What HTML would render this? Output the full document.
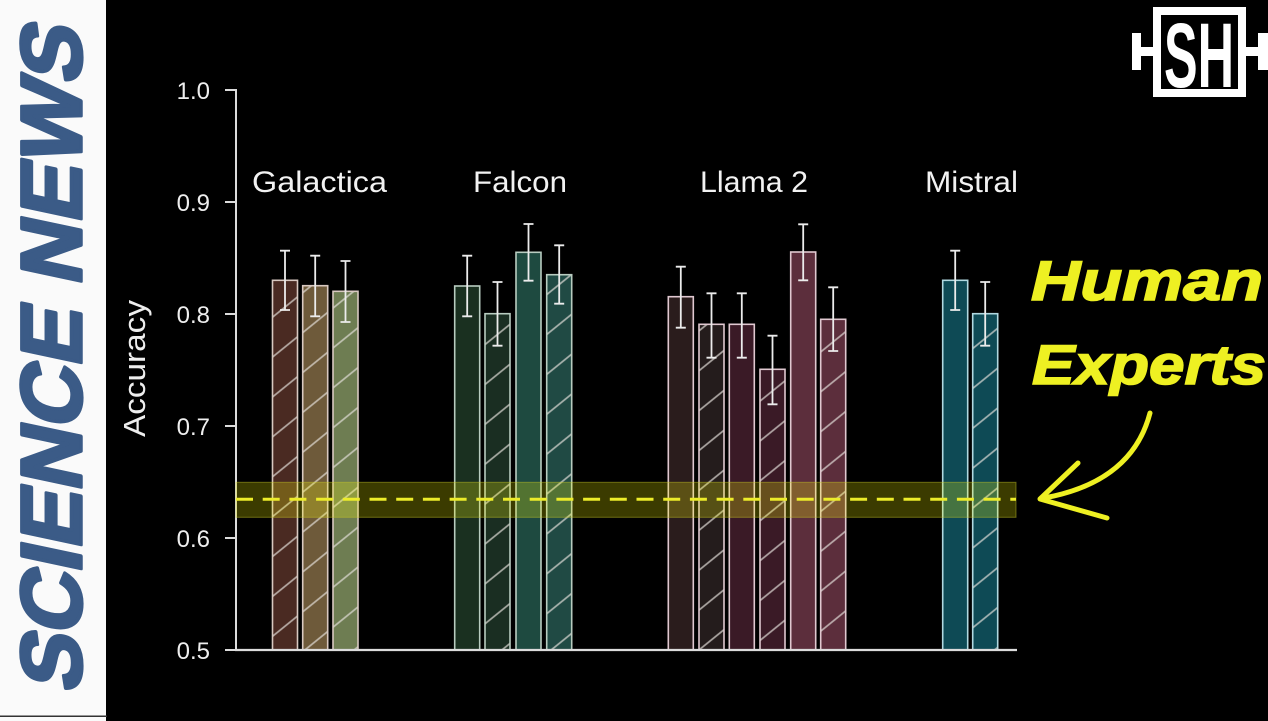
<!DOCTYPE html>
<html>
<head>
<meta charset="utf-8">
<style>
  html,body{margin:0;padding:0;background:#000;}
  svg{display:block;}
</style>
</head>
<body>
<svg width="1268" height="721" viewBox="0 0 1268 721" xmlns="http://www.w3.org/2000/svg">
  <defs>
    <pattern id="h" patternUnits="userSpaceOnUse" width="10" height="31" patternTransform="rotate(-39)">
      <line x1="-1" y1="15" x2="11" y2="15" stroke="rgba(230,225,220,0.7)" stroke-width="1.7"/>
    </pattern>
  </defs>
  <rect x="0" y="0" width="1268" height="721" fill="#000"/>

  <!-- left banner -->
  <rect x="0" y="0" width="106" height="721" fill="#fafafa"/>
  <rect x="0" y="715.5" width="107" height="1.5" fill="#333"/>
  <text transform="translate(81,694) rotate(-90) skewX(-12)" x="0" y="0" font-family="Liberation Sans, sans-serif" font-weight="bold" font-size="86" fill="#3b5b87" stroke="#3b5b87" stroke-width="3.5" stroke-linejoin="round" textLength="666" lengthAdjust="spacingAndGlyphs">SCIENCE NEWS</text>

  <!-- logo -->
  <rect x="1153" y="7" width="93" height="90" fill="#fff"/>
  <rect x="1161" y="15" width="77" height="74" fill="#000"/>
  <text x="1164" y="87" font-family="Liberation Sans, sans-serif" font-weight="bold" font-size="92" fill="#fff" textLength="70" lengthAdjust="spacingAndGlyphs">SH</text>
  <rect x="1132" y="47" width="21" height="9" fill="#fff"/>
  <rect x="1132" y="33" width="9" height="37" fill="#fff"/>
  <rect x="1246" y="47" width="16" height="9" fill="#fff"/>
  <rect x="1258" y="33" width="10" height="37" fill="#fff"/>

  <!-- y axis -->
  <g stroke="#dcdcdc" stroke-width="2" fill="none">
    <line x1="236" y1="89" x2="236" y2="650"/>
    <line x1="225" y1="90" x2="236" y2="90"/>
    <line x1="225" y1="202" x2="236" y2="202"/>
    <line x1="225" y1="314" x2="236" y2="314"/>
    <line x1="225" y1="426" x2="236" y2="426"/>
    <line x1="225" y1="538" x2="236" y2="538"/>
    <line x1="225" y1="650" x2="236" y2="650"/>
  </g>
  <g font-family="Liberation Sans, sans-serif" font-size="24" fill="#eeeeee" text-anchor="end">
    <text x="210" y="99">1.0</text>
    <text x="210" y="211">0.9</text>
    <text x="210" y="323">0.8</text>
    <text x="210" y="435">0.7</text>
    <text x="210" y="547">0.6</text>
    <text x="210" y="659">0.5</text>
  </g>
  <text transform="translate(145,437) rotate(-90)" x="0" y="0" font-family="Liberation Sans, sans-serif" font-size="31" fill="#eeeeee" textLength="137" lengthAdjust="spacingAndGlyphs">Accuracy</text>

  <!-- group labels -->
  <g font-family="Liberation Sans, sans-serif" font-size="30" fill="#f2f2f2">
    <text x="252" y="192" textLength="135" lengthAdjust="spacingAndGlyphs">Galactica</text>
    <text x="473" y="192" textLength="94" lengthAdjust="spacingAndGlyphs">Falcon</text>
    <text x="700" y="192" textLength="108" lengthAdjust="spacingAndGlyphs">Llama 2</text>
    <text x="925" y="192" textLength="93" lengthAdjust="spacingAndGlyphs">Mistral</text>
  </g>

  <!-- bars: Galactica -->
  <g stroke="#d8c8c0" stroke-width="1.6">
    <rect x="272.5" y="280.3" width="25" height="369.7" fill="#4a2a22"/>
    <rect x="302.7" y="285.7" width="25" height="364.3" fill="#6e5a3a"/>
    <rect x="333" y="291.3" width="25" height="358.7" fill="#6e7d52"/>
  </g>
  <g fill="url(#h)">
    <rect x="273" y="281" width="24" height="369"/>
    <rect x="303.2" y="286.5" width="24" height="363.5"/>
    <rect x="333.5" y="292" width="24" height="358"/>
  </g>

  <!-- bars: Falcon -->
  <g stroke="#b8ccc0" stroke-width="1.6">
    <rect x="454.7" y="286" width="25" height="364" fill="#1a3020"/>
    <rect x="485" y="313.7" width="25" height="336.3" fill="#1a2e22"/>
    <rect x="516" y="252.3" width="25" height="397.7" fill="#1e4a40"/>
    <rect x="546.7" y="274.7" width="25" height="375.3" fill="#204a44"/>
  </g>
  <g fill="url(#h)">
    <rect x="485.5" y="314.5" width="24" height="335.5"/>
    <rect x="547.2" y="275.5" width="24" height="374.5"/>
  </g>

  <!-- bars: Llama 2 -->
  <g stroke="#e0c8d0" stroke-width="1.6">
    <rect x="668.3" y="296.7" width="25" height="353.3" fill="#2a1c1c"/>
    <rect x="699" y="324.3" width="25" height="325.7" fill="#241c1c"/>
    <rect x="729.3" y="324.3" width="25" height="325.7" fill="#3a1a26"/>
    <rect x="760" y="369.3" width="25" height="280.7" fill="#3a1a26"/>
    <rect x="790.7" y="252" width="25" height="398" fill="#5c2e3c"/>
    <rect x="820.7" y="319.3" width="25" height="330.7" fill="#5c2e3c"/>
  </g>
  <g fill="url(#h)">
    <rect x="699.5" y="325" width="24" height="325"/>
    <rect x="760.5" y="370" width="24" height="280"/>
    <rect x="821.2" y="320" width="24" height="330"/>
  </g>

  <!-- bars: Mistral -->
  <g stroke="#b0d8e0" stroke-width="1.6">
    <rect x="942.7" y="280.3" width="25" height="369.7" fill="#0e4a55"/>
    <rect x="972.7" y="313.7" width="25" height="336.3" fill="#0e4a55"/>
  </g>
  <g fill="url(#h)">
    <rect x="973.2" y="314.5" width="24" height="335.5"/>
  </g>

  <!-- error bars -->
  <path fill="none" stroke="#ececec" stroke-width="1.8" d="
    M285,250.7 V310 M280,250.7 H290 M280,310 H290
    M315.2,255.7 V316.3 M310.2,255.7 H320.2 M310.2,316.3 H320.2
    M345.5,261 V322 M340.5,261 H350.5 M340.5,322 H350.5
    M467.2,255.7 V316.3 M462.2,255.7 H472.2 M462.2,316.3 H472.2
    M497.5,282 V345.7 M492.5,282 H502.5 M492.5,345.7 H502.5
    M528.5,224 V280.7 M523.5,224 H533.5 M523.5,280.7 H533.5
    M559.2,245.3 V303.7 M554.2,245.3 H564.2 M554.2,303.7 H564.2
    M680.8,266.7 V327.7 M675.8,266.7 H685.8 M675.8,327.7 H685.8
    M711.5,293.3 V357.7 M706.5,293.3 H716.5 M706.5,357.7 H716.5
    M741.8,293.3 V357.7 M736.8,293.3 H746.8 M736.8,357.7 H746.8
    M772.5,335.7 V404.3 M767.5,335.7 H777.5 M767.5,404.3 H777.5
    M803.2,224.3 V280.3 M798.2,224.3 H808.2 M798.2,280.3 H808.2
    M833.2,287.3 V351 M828.2,287.3 H838.2 M828.2,351 H838.2
    M955.2,250.7 V310 M950.2,250.7 H960.2 M950.2,310 H960.2
    M985.2,282 V345.7 M980.2,282 H990.2 M980.2,345.7 H990.2"/>

  <!-- x axis -->
  <line x1="235" y1="650" x2="1017" y2="650" stroke="#dcdcdc" stroke-width="2.2"/>

  <!-- human expert band -->
  <rect x="236" y="482.3" width="780" height="35" fill="rgba(255,255,0,0.23)" stroke="rgba(200,200,40,0.45)" stroke-width="1"/>
  <line x1="236" y1="499.3" x2="1016" y2="499.3" stroke="#ecec2a" stroke-width="3" stroke-dasharray="17 9.7"/>

  <!-- Human Experts annotation -->
  <g font-family="Liberation Sans, sans-serif" font-weight="bold" font-style="italic" font-size="56" fill="#eef022" stroke="#eef022" stroke-width="1.6">
    <text x="1031" y="300" textLength="232" lengthAdjust="spacingAndGlyphs">Human</text>
    <text x="1032" y="384" textLength="234" lengthAdjust="spacingAndGlyphs">Experts</text>
  </g>
  <g fill="none" stroke="#eef022" stroke-linecap="round" stroke-linejoin="round">
    <path d="M1150,413 Q1132,482 1044,498" stroke-width="5"/>
    <path d="M1078,463 L1040,499 L1107,518" stroke-width="5"/>
  </g>
</svg>
</body>
</html>
